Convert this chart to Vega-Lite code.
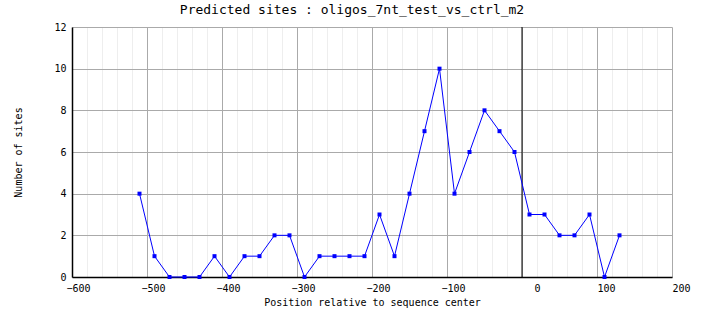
{
  "$schema": "https://vega.github.io/schema/vega-lite/v6.json",
  "autosize": "none",
  "width": 600,
  "height": 250,
  "padding": {"left": 72, "top": 27, "right": 32, "bottom": 51},
  "background": "white",
  "title": {
    "text": "Predicted sites : oligos_7nt_test_vs_ctrl_m2",
    "font": "DejaVu Sans Mono",
    "fontSize": 13,
    "fontWeight": "normal",
    "color": "black",
    "anchor": "middle",
    "dx": -20,
    "offset": 5
  },
  "config": {
    "view": {"stroke": null},
    "axis": {"labelFont": "DejaVu Sans Mono", "titleFont": "DejaVu Sans Mono", "labelFontSize": 10, "titleFontSize": 10, "titleFontWeight": "normal", "labelColor": "black", "titleColor": "black"}
  },
  "datasets": {
    "sites": [
      {"pos": -510, "n": 4}, {"pos": -490, "n": 1}, {"pos": -470, "n": 0}, {"pos": -450, "n": 0},
      {"pos": -430, "n": 0}, {"pos": -410, "n": 1}, {"pos": -390, "n": 0}, {"pos": -370, "n": 1},
      {"pos": -350, "n": 1}, {"pos": -330, "n": 2}, {"pos": -310, "n": 2}, {"pos": -290, "n": 0},
      {"pos": -270, "n": 1}, {"pos": -250, "n": 1}, {"pos": -230, "n": 1}, {"pos": -210, "n": 1},
      {"pos": -190, "n": 3}, {"pos": -170, "n": 1}, {"pos": -150, "n": 4}, {"pos": -130, "n": 7},
      {"pos": -110, "n": 10}, {"pos": -90, "n": 4}, {"pos": -70, "n": 6}, {"pos": -50, "n": 8},
      {"pos": -30, "n": 7}, {"pos": -10, "n": 6}, {"pos": 10, "n": 3}, {"pos": 30, "n": 3},
      {"pos": 50, "n": 2}, {"pos": 70, "n": 2}, {"pos": 90, "n": 3}, {"pos": 110, "n": 0},
      {"pos": 130, "n": 2}
    ],
    "center": [{"pos": 0}]
  },
  "resolve": {"axis": {"x": "independent"}},
  "layer": [
    {
      "data": {"name": "center"},
      "mark": {"type": "rule", "color": "black", "strokeWidth": 1},
      "encoding": {
        "x": {
          "field": "pos", "type": "quantitative",
          "scale": {"domain": [-600, 200], "nice": false, "zero": false},
          "axis": {
            "orient": "top", "values": [-580,-560,-540,-520,-480,-460,-440,-420,-380,-360,-340,-320,-280,-260,-240,-220,-180,-160,-140,-120,-80,-60,-40,-20,20,40,60,80,120,140,160,180],
            "grid": true, "gridColor": "#eeeeee", "gridWidth": 1, "gridOpacity": 1,
            "labels": false, "ticks": false, "domain": false, "title": null
          }
        }
      }
    },
    {
      "data": {"name": "sites"},
      "mark": {"type": "line", "color": "#0000ff", "strokeWidth": 1},
      "encoding": {
        "x": {
          "field": "pos", "type": "quantitative",
          "scale": {"domain": [-600, 200], "nice": false, "zero": false},
          "axis": {
            "orient": "bottom", "values": [-600,-500,-400,-300,-200,-100,0,100,200],
            "grid": true, "gridColor": "#aaaaaa", "gridWidth": 1, "gridOpacity": 1,
            "ticks": false, "tickSize": 0, "labelPadding": 6,
            "labelAlign": "left", "labelFlush": false, "labelOverlap": false, "labelBound": false,
            "labelOffset": {"condition": [{"test": "datum.value < 0", "value": -6}, {"test": "datum.value == 0", "value": 12}], "value": 0},
            "domainColor": "black", "domainWidth": 1.5,
            "title": "Position relative to sequence center", "titlePadding": 4
          }
        },
        "y": {
          "field": "n", "type": "quantitative",
          "scale": {"domain": [0, 12], "nice": false},
          "axis": {
            "values": [0,2,4,6,8,10,12],
            "grid": true, "gridColor": "#aaaaaa", "gridWidth": 1, "gridOpacity": 1,
            "ticks": false, "tickSize": 0, "labelPadding": 6,
            "domainColor": "black", "domainWidth": 1.5,
            "title": "Number of sites", "titleX": -54, "titleY": 125, "titleAngle": -90,
            "titleAlign": "center", "titleBaseline": "middle"
          }
        }
      }
    },
    {
      "data": {"name": "sites"},
      "mark": {"type": "point", "shape": "square", "filled": true, "size": 16, "color": "#0000ff", "opacity": 1},
      "encoding": {
        "x": {"field": "pos", "type": "quantitative", "scale": {"domain": [-600, 200], "nice": false, "zero": false}, "axis": null},
        "y": {"field": "n", "type": "quantitative", "scale": {"domain": [0, 12], "nice": false}}
      }
    }
  ]
}
